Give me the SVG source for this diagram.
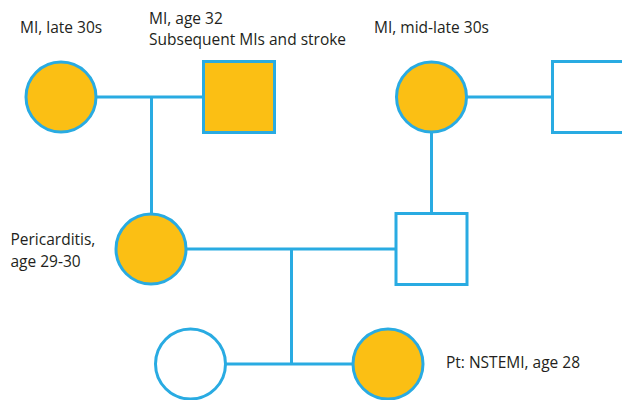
<svg xmlns="http://www.w3.org/2000/svg" width="622" height="400" viewBox="0 0 622 400">
<style>
.aff{fill:#FBBF14;stroke:#29ABE2;stroke-width:3}
.un{fill:#FFFFFF;stroke:#29ABE2;stroke-width:3}
.ln{stroke:#29ABE2;stroke-width:3;fill:none}
text{font-family:"Open Sans","Liberation Sans",sans-serif;font-size:15.5px;fill:#231F20}
</style>
<rect width="622" height="400" fill="#FFFFFF"/>
<g id="connectors">
<line class="ln" x1="96" y1="97" x2="203" y2="97"/>
<line class="ln" x1="151.5" y1="97" x2="151.5" y2="214"/>
<line class="ln" x1="467" y1="97" x2="553" y2="97"/>
<line class="ln" x1="431.5" y1="132" x2="431.5" y2="214"/>
<line class="ln" x1="186" y1="249" x2="397" y2="249"/>
<line class="ln" x1="291.5" y1="249" x2="291.5" y2="364"/>
<line class="ln" x1="225" y1="364" x2="353" y2="364"/>
</g>
<g id="grandmother1">
<circle class="aff" cx="61" cy="97" r="35"/>
<text x="20" y="33">MI, late 30s</text>
</g>
<g id="grandfather1">
<rect class="aff" x="203.5" y="61.5" width="71" height="71"/>
<text x="149" y="24">MI, age 32</text>
<text x="149" y="45">Subsequent MIs and stroke</text>
</g>
<g id="grandmother2">
<circle class="aff" cx="431.5" cy="97" r="35"/>
<text x="374" y="33">MI, mid-late 30s</text>
</g>
<g id="grandfather2">
<rect class="un" x="552.5" y="61.5" width="71" height="71"/>
</g>
<g id="mother">
<circle class="aff" cx="151" cy="249" r="35"/>
<text x="10.5" y="245">Pericarditis,</text>
<text x="10.5" y="266.5">age 29-30</text>
</g>
<g id="father">
<rect class="un" x="396" y="213.5" width="71" height="71"/>
</g>
<g id="sibling">
<circle class="un" cx="190.5" cy="364" r="35"/>
</g>
<g id="patient">
<circle class="aff" cx="388" cy="364" r="35"/>
<text x="446" y="368">Pt: NSTEMI, age 28</text>
</g>
</svg>
